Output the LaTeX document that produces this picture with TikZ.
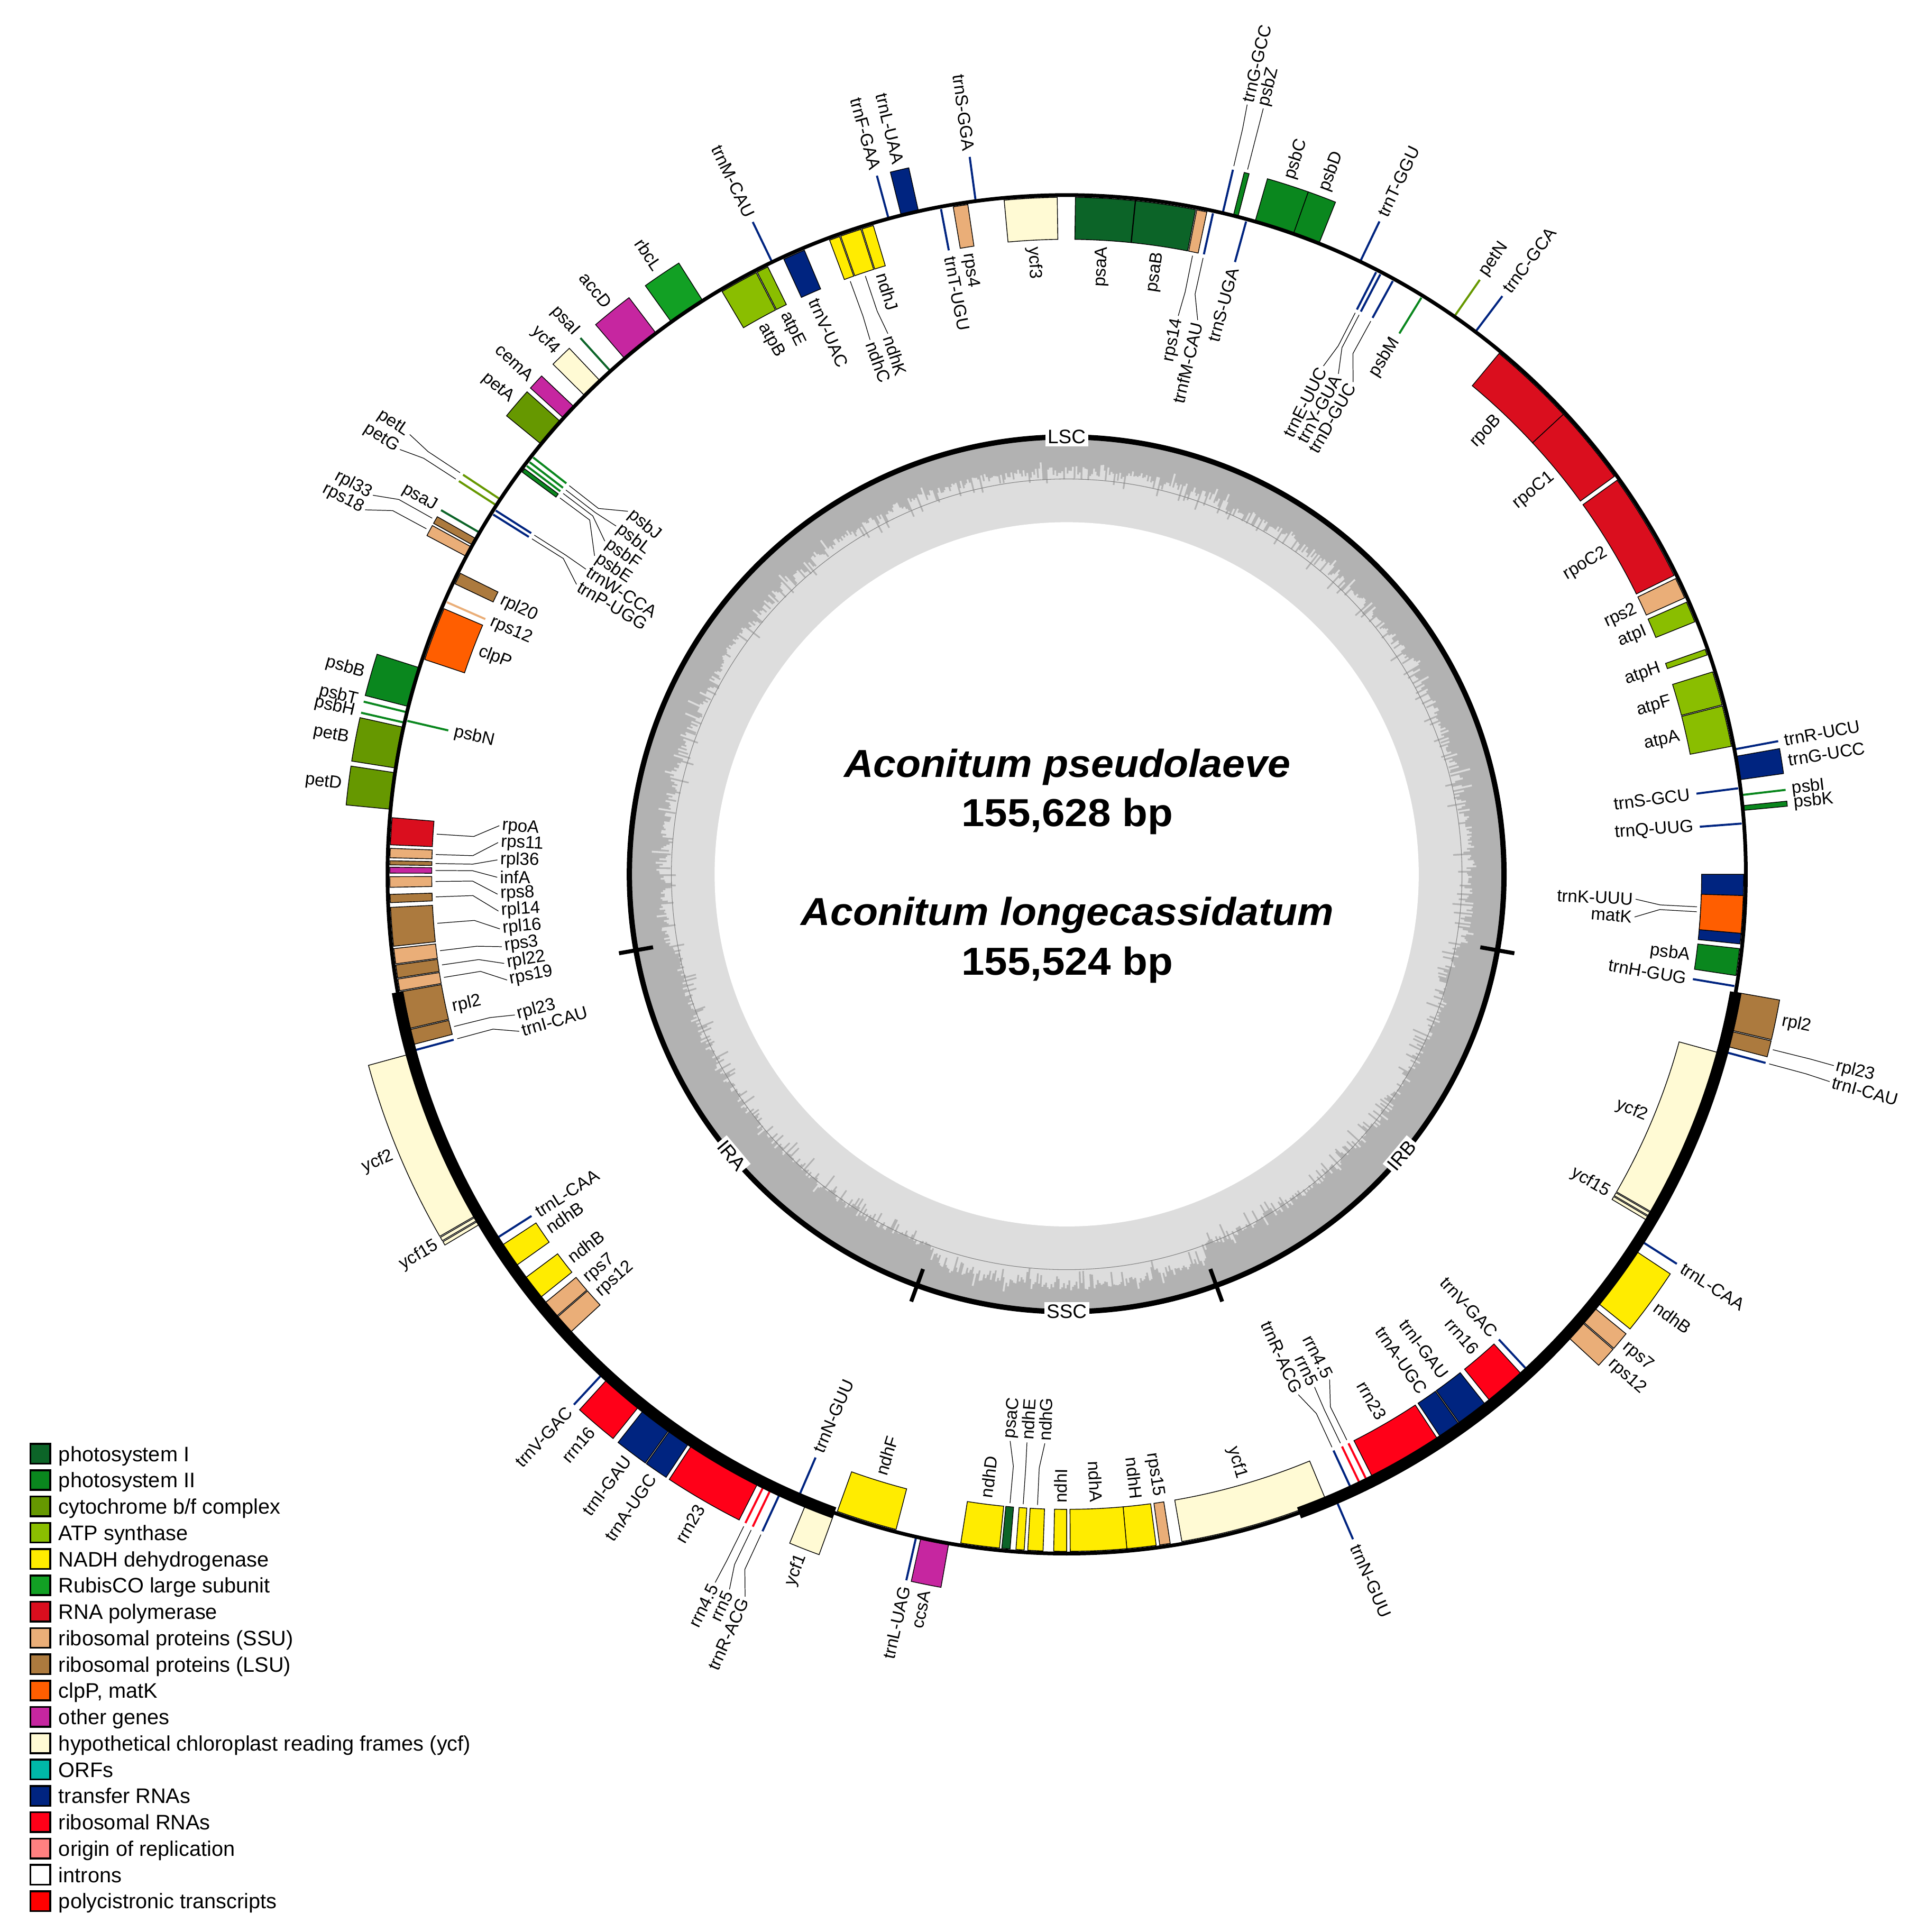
\documentclass[tikz,border=0pt]{standalone}
\usepackage{fontspec}
\setmainfont{Liberation Sans}
\definecolor{cPSI}{RGB}{12,100,40}
\definecolor{cPSII}{RGB}{10,135,30}
\definecolor{cCYT}{RGB}{102,152,0}
\definecolor{cATP}{RGB}{138,190,0}
\definecolor{cNDH}{RGB}{255,236,0}
\definecolor{cRBC}{RGB}{18,160,36}
\definecolor{cRPO}{RGB}{218,14,30}
\definecolor{cSSU}{RGB}{234,174,120}
\definecolor{cLSU}{RGB}{172,122,62}
\definecolor{cCLP}{RGB}{255,94,0}
\definecolor{cOTH}{RGB}{198,38,160}
\definecolor{cYCF}{RGB}{255,250,212}
\definecolor{cORF}{RGB}{0,184,168}
\definecolor{cTRN}{RGB}{0,36,128}
\definecolor{cRRN}{RGB}{255,0,24}
\definecolor{cORI}{RGB}{255,128,128}
\definecolor{cPOLY}{RGB}{255,0,0}
\definecolor{gcdark}{RGB}{178,178,178}
\definecolor{gclight}{RGB}{221,221,221}
\tikzset{
  genebox/.style={draw=black, line width=0.4pt},
  geneline/.style={line width=1.1pt},
  leader/.style={draw=black, line width=0.35pt},
  glabel/.style={font=\fontsize{9.4}{11}\selectfont, inner sep=0pt},
  ringlab/.style={font=\fontsize{10.5}{12}\selectfont, fill=white, inner sep=1.3pt},
  legbox/.style={draw=black, line width=1pt},
  legtext/.style={font=\fontsize{11.3}{13}\selectfont, inner sep=0pt, anchor=base west},
  titletext/.style={font=\fontsize{21}{25}\selectfont\bfseries\itshape, inner sep=0pt, anchor=base, xscale=1.045},
  numtext/.style={font=\fontsize{21}{25}\selectfont\bfseries, inner sep=0pt, anchor=base, xscale=1.06},
}
\newcounter{labc}
\newcommand\gbox[4]{%
  \ifx o#3\def\gra{551}\def\grb{586}\else\def\gra{514}\def\grb{548}\fi
  \filldraw[genebox, fill=#4] ({90-#1}:\gra) arc[start angle={90-#1}, end angle={90-#2}, radius=\gra]
    -- ({90-#2}:\grb) arc[start angle={90-#2}, end angle={90-#1}, radius=\grb] -- cycle;}
\newcommand\gline[3]{%
  \ifx o#2\def\gra{551}\def\grb{586}\else\def\gra{514}\def\grb{548}\fi
  \draw[geneline, #3] ({90-#1}:\gra) -- ({90-#1}:\grb);}
\newcommand\placelab[4]{%
  \pgfmathsetmacro\labpa{90-#1}%
  \pgfmathtruncatemacro\labrh{ifthenelse(mod(#1+720,360)<180,1,0)}%
  \ifnum\labrh=#3\relax\def\labanc{west}\else\def\labanc{east}\fi
  \ifnum\labrh=1\relax\pgfmathsetmacro\labrot{\labpa}\else\pgfmathsetmacro\labrot{\labpa+180}\fi
  \stepcounter{labc}%
  \node[glabel, anchor=\labanc, rotate=\labrot] (lab\arabic{labc}) at (\labpa:#2) {#4};}
\newcommand\glab[3]{\ifx o#2\placelab{#1}{591}{1}{#3}\else\placelab{#1}{509}{0}{#3}\fi}
\newcommand\glead[4]{%
  \ifx o#3%
    \draw[leader] ({90-#1}:589) -- ({90-#1}:620) -- ({90-#2}:640);%
    \placelab{#2}{642}{1}{#4}%
  \else
    \draw[leader] ({90-#1}:511) -- ({90-#1}:481) -- ({90-#2}:461);%
    \placelab{#2}{459}{0}{#4}%
  \fi}
\begin{document}
\begin{tikzpicture}[x=0.2336mm, y=0.2336mm]
\useasboundingbox (-863.5,-856.1) rectangle (696.4,707.7);
\fill[white] (-863.5,-856.1) rectangle (696.4,707.7);
% ---------------- GC content ring
\fill[gcdark] (0,0) circle[radius=355];
\pgfmathsetseed{11}
\fill[gclight] (90:327) \foreach \i in {1,...,1440}{
  \pgfextra{\pgfmathsetmacro\th{\i*0.25}%
    \pgfmathsetmacro\mr{ifthenelse(or(and(\th>100,\th<160),and(\th>200,\th<260)),322,ifthenelse(and(\th>159.9,\th<200.1),334,328))}%
    \pgfmathsetmacro\sp{rnd}%
    \pgfmathsetmacro\rr{\mr+3*rand-13*\sp*\sp*\sp+ifthenelse(rnd<0.08,9*rnd,0)}}
  -- ({90.25-\th}:\rr) -- ({90-\th}:\rr) } -- cycle;
\fill[white] (0,0) circle[radius=285];
\draw[gray, line width=0.3pt] (0,0) circle[radius=320];
\draw[black, line width=1.0mm] (0,0) circle[radius=354];
\foreach \t in {100,160,200,260} \draw[line width=0.75mm] ({90-\t}:340) -- ({90-\t}:368);
\node[ringlab] (lsc) at (90:354) {LSC};
\node[ringlab, rotate=50] (irb) at (-40:354) {IRB};
\node[ringlab] (ssc) at (-90:354) {SSC};
\node[ringlab, rotate=-50] (ira) at (-140:354) {IRA};
% ---------------- genes: LSC (right)
\gbox{0.74}{5.81}{i}{cPSI}
\gbox{5.85}{10.98}{i}{cPSI}
\gbox{11.08}{11.95}{i}{cSSU}
\gline{12.48}{i}{cTRN}
\gline{13.28}{o}{cTRN}
\gbox{14.2}{14.6}{o}{cPSII}
\gline{15.37}{i}{cTRN}
\gbox{16.1}{19.5}{o}{cPSII}
\gbox{19.5}{21.8}{o}{cPSII}
\gline{25.6}{o}{cTRN}
\gline{27.2}{i}{cTRN}
\gline{27.6}{i}{cTRN}
\gline{28.8}{i}{cTRN}
\gline{31.6}{i}{cPSII}
\gline{34.8}{o}{cCYT}
\gline{37.0}{o}{cTRN}
\gbox{39.7}{47.2}{i}{cRPO}
\gbox{47.2}{54.0}{i}{cRPO}
\gbox{54.4}{63.8}{i}{cRPO}
\gbox{64.1}{65.9}{i}{cSSU}
\gbox{66.3}{68.1}{i}{cATP}
\gbox{70.6}{71.1}{i}{cATP}
\gbox{72.6}{75.5}{i}{cATP}
\gbox{75.6}{79.1}{i}{cATP}
\gline{79.4}{o}{cTRN}
\gbox{80.0}{82.0}{o}{cTRN}
\gline{82.7}{i}{cTRN}
\gline{83.3}{o}{cPSII}
\gbox{84.2}{84.6}{o}{cPSII}
\gline{85.7}{i}{cTRN}
\gbox{90.0}{95.9}{i}{cTRN}
\gbox{91.8}{95.0}{i}{cCLP}
\gbox{96.3}{98.6}{i}{cPSII}
\gline{99.5}{i}{cTRN}
% IRB
\gbox{100.0}{103.2}{o}{cLSU}
\gbox{103.3}{104.6}{o}{cLSU}
\gline{105.1}{o}{cTRN}
\gbox{105.3}{120.0}{i}{cYCF}
\gbox{120.1}{120.4}{i}{cYCF}
\gbox{120.5}{120.8}{i}{cYCF}
\gline{122.55}{o}{cTRN}
\gbox{123.5}{128.9}{o}{cNDH}
\gbox{129.4}{130.9}{o}{cSSU}
\gbox{131.0}{132.7}{o}{cSSU}
\gline{137.1}{i}{cTRN}
\gbox{137.7}{141.2}{i}{cRRN}
\gbox{141.7}{144.4}{i}{cTRN}
\gbox{144.5}{146.4}{i}{cTRN}
\gbox{146.7}{153.1}{i}{cRRN}
\gline{153.65}{i}{cRRN}
\gline{154.3}{i}{cRRN}
\gline{155.15}{i}{cTRN}
\gline{156.7}{o}{cTRN}
\gbox{157.5}{170.2}{i}{cYCF}
% SSC
\gbox{171.2}{172.1}{i}{cSSU}
\gbox{172.4}{174.9}{i}{cNDH}
\gbox{174.9}{179.7}{i}{cNDH}
\gbox{180.0}{181.1}{i}{cNDH}
\gbox{182.0}{183.3}{i}{cNDH}
\gbox{183.6}{184.3}{i}{cNDH}
\gbox{184.8}{185.5}{i}{cPSI}
\gbox{185.7}{189.0}{i}{cNDH}
\gbox{190.0}{192.4}{o}{cOTH}
\gline{192.8}{o}{cTRN}
\gbox{194.6}{199.8}{i}{cNDH}
% IRA
\gbox{200.0}{202.5}{o}{cYCF}
\gline{203.3}{i}{cTRN}
\gline{204.85}{o}{cTRN}
\gline{205.7}{o}{cRRN}
\gline{206.35}{o}{cRRN}
\gbox{206.9}{213.3}{o}{cRRN}
\gbox{213.6}{215.5}{o}{cTRN}
\gbox{215.6}{218.3}{o}{cTRN}
\gbox{218.8}{222.3}{o}{cRRN}
\gline{222.9}{o}{cTRN}
\gbox{227.3}{229.0}{i}{cSSU}
\gbox{229.1}{230.6}{i}{cSSU}
\gbox{231.2}{233.3}{i}{cNDH}
\gbox{234.6}{236.7}{i}{cNDH}
\gline{237.45}{i}{cTRN}
\gbox{239.2}{239.5}{o}{cYCF}
\gbox{239.6}{239.9}{o}{cYCF}
\gbox{240.0}{254.7}{o}{cYCF}
\gline{254.9}{i}{cTRN}
\gbox{255.4}{256.7}{i}{cLSU}
\gbox{256.8}{260.0}{i}{cLSU}
% LSC (left)
\gbox{260.1}{261.1}{i}{cSSU}
\gbox{261.2}{262.3}{i}{cLSU}
\gbox{262.4}{263.7}{i}{cSSU}
\gbox{263.9}{267.2}{i}{cLSU}
\gbox{267.6}{268.3}{i}{cLSU}
\gbox{268.9}{269.8}{i}{cSSU}
\gbox{270.1}{270.6}{i}{cOTH}
\gbox{270.8}{271.15}{i}{cLSU}
\gbox{271.4}{272.2}{i}{cSSU}
\gbox{272.5}{274.8}{i}{cRPO}
\gbox{275.5}{278.6}{o}{cCYT}
\gbox{279.0}{282.5}{o}{cCYT}
\gline{282.9}{o}{cPSII}
\gline{283.1}{i}{cPSII}
\gline{283.8}{o}{cPSII}
\gbox{284.3}{287.7}{o}{cPSII}
\gbox{288.5}{293.1}{i}{cCLP}
\gline{293.7}{i}{cSSU}
\gbox{295.4}{296.4}{i}{cLSU}
\gbox{297.9}{298.8}{o}{cSSU}
\gbox{299.0}{299.6}{o}{cLSU}
\gline{300.2}{o}{cPSI}
\gline{302.1}{i}{cTRN}
\gline{302.5}{i}{cTRN}
\gline{302.9}{o}{cCYT}
\gline{303.5}{o}{cCYT}
\gbox{306.45}{306.8}{i}{cPSII}
\gline{307.1}{i}{cPSII}
\gline{307.5}{i}{cPSII}
\gline{308.0}{i}{cPSII}
\gbox{309.3}{311.8}{o}{cCYT}
\gbox{312.2}{313.5}{o}{cOTH}
\gbox{314.8}{316.6}{o}{cYCF}
\gline{317.8}{o}{cPSI}
\gbox{319.4}{322.8}{o}{cOTH}
\gbox{324.4}{327.6}{o}{cRBC}
\gbox{329.4}{332.7}{i}{cATP}
\gbox{332.8}{333.8}{i}{cATP}
\gline{334.3}{o}{cTRN}
\gbox{335.3}{337.2}{i}{cTRN}
\gbox{339.5}{340.4}{i}{cNDH}
\gbox{340.5}{342.3}{i}{cNDH}
\gbox{342.4}{343.4}{i}{cNDH}
\gline{344.8}{o}{cTRN}
\gbox{345.9}{347.4}{o}{cTRN}
\gline{349.3}{i}{cTRN}
\gbox{350.35}{351.6}{i}{cSSU}
\gline{352.3}{o}{cTRN}
\gbox{354.7}{359.2}{i}{cYCF}
% ---------------- genome circle and inverted repeats
\draw[line width=0.7mm] (0,0) circle[radius=549.8];
\draw[line width=2.2mm] (-10:550) arc[start angle=-10, end angle=-70, radius=550];
\draw[line width=2.2mm] (-110:550) arc[start angle=-110, end angle=-170, radius=550];
% ---------------- direct labels, outside
\glab{17.8}{o}{psbC}
\glab{20.65}{o}{psbD}
\glab{25.6}{o}{trnT-GGU}
\glab{34.8}{o}{petN}
\glab{37.0}{o}{trnC-GCA}
\glab{79.4}{o}{trnR-UCU}
\glab{81.0}{o}{trnG-UCC}
\glab{83.3}{o}{psbI}
\glab{84.4}{o}{psbK}
\glab{101.6}{o}{rpl2}
\glab{122.55}{o}{trnL-CAA}
\glab{126.2}{o}{ndhB}
\glab{130.15}{o}{rps7}
\glab{131.85}{o}{rps12}
\glab{156.7}{o}{trnN-GUU}
\glab{191.2}{o}{ccsA}
\glab{192.8}{o}{trnL-UAG}
\glab{201.25}{o}{ycf1}
\glab{210.1}{o}{rrn23}
\glab{214.55}{o}{trnA-UGC}
\glab{216.95}{o}{trnI-GAU}
\glab{220.55}{o}{rrn16}
\glab{222.9}{o}{trnV-GAC}
\glab{239.55}{o}{ycf15}
\glab{247.35}{o}{ycf2}
\glab{277.05}{o}{petD}
\glab{280.75}{o}{petB}
\glab{282.9}{o}{psbH}
\glab{283.8}{o}{psbT}
\glab{286.0}{o}{psbB}
\glab{300.2}{o}{psaJ}
\glab{310.55}{o}{petA}
\glab{312.85}{o}{cemA}
\glab{315.7}{o}{ycf4}
\glab{317.8}{o}{psaI}
\glab{321.1}{o}{accD}
\glab{326.0}{o}{rbcL}
\glab{334.3}{o}{trnM-CAU}
\glab{344.8}{o}{trnF-GAA}
\glab{346.65}{o}{trnL-UAA}
\glab{352.3}{o}{trnS-GGA}
% direct labels, inside
\glab{3.3}{i}{psaA}
\glab{8.4}{i}{psaB}
\glab{15.37}{i}{trnS-UGA}
\glab{31.6}{i}{psbM}
\glab{43.45}{i}{rpoB}
\glab{50.6}{i}{rpoC1}
\glab{59.1}{i}{rpoC2}
\glab{65.0}{i}{rps2}
\glab{67.2}{i}{atpI}
\glab{70.85}{i}{atpH}
\glab{74.05}{i}{atpF}
\glab{77.35}{i}{atpA}
\glab{82.7}{i}{trnS-GCU}
\glab{85.7}{i}{trnQ-UUG}
\glab{97.45}{i}{psbA}
\glab{99.5}{i}{trnH-GUG}
\glab{112.65}{i}{ycf2}
\glab{120.45}{i}{ycf15}
\glab{137.1}{i}{trnV-GAC}
\glab{139.45}{i}{rrn16}
\glab{143.05}{i}{trnI-GAU}
\glab{145.45}{i}{trnA-UGC}
\glab{149.9}{i}{rrn23}
\glab{163.85}{i}{ycf1}
\glab{171.65}{i}{rps15}
\glab{173.65}{i}{ndhH}
\glab{177.3}{i}{ndhA}
\glab{180.55}{i}{ndhI}
\glab{187.35}{i}{ndhD}
\glab{197.2}{i}{ndhF}
\glab{203.3}{i}{trnN-GUU}
\glab{228.15}{i}{rps12}
\glab{229.85}{i}{rps7}
\glab{232.25}{i}{ndhB}
\glab{235.65}{i}{ndhB}
\glab{237.45}{i}{trnL-CAA}
\glab{257.8}{i}{rpl2}
\glab{283.1}{i}{psbN}
\glab{290.8}{i}{clpP}
\glab{293.7}{i}{rps12}
\glab{295.9}{i}{rpl20}
\glab{331.05}{i}{atpB}
\glab{333.3}{i}{atpE}
\glab{336.25}{i}{trnV-UAC}
\glab{342.9}{i}{ndhJ}
\glab{349.3}{i}{trnT-UGU}
\glab{350.95}{i}{rps4}
\glab{356.95}{i}{ycf3}
% leader labels, outside
\glead{13.28}{13.2}{o}{trnG-GCC}
\glead{14.4}{14.4}{o}{psbZ}
\glead{103.95}{104.0}{o}{rpl23}
\glead{105.1}{105.2}{o}{trnI-CAU}
\glead{204.85}{204.0}{o}{trnR-ACG}
\glead{205.7}{205.25}{o}{rrn5}
\glead{206.35}{206.4}{o}{rrn4.5}
\glead{298.35}{297.45}{o}{rps18}
\glead{299.3}{298.65}{o}{rpl33}
\glead{302.9}{302.5}{o}{petG}
\glead{303.5}{303.8}{o}{petL}
% leader labels, inside
\glead{339.95}{339.8}{i}{ndhC}
\glead{341.4}{341.7}{i}{ndhK}
\glead{11.5}{11.3}{i}{rps14}
\glead{12.48}{13.3}{i}{trnfM-CAU}
\glead{27.2}{26.8}{i}{trnE-UUC}
\glead{27.6}{28.5}{i}{trnY-GUA}
\glead{28.8}{30.2}{i}{trnD-GUC}
\glead{92.95}{92.5}{i}{trnK-UUU}
\glead{93.4}{94.3}{i}{matK}
\glead{153.65}{152.5}{i}{rrn4.5}
\glead{154.3}{154.2}{i}{rrn5}
\glead{155.15}{156.0}{i}{trnR-ACG}
\glead{182.65}{182.2}{i}{ndhG}
\glead{183.95}{184.0}{i}{ndhE}
\glead{185.15}{185.7}{i}{psaC}
\glead{254.9}{254.0}{i}{trnI-CAU}
\glead{256.05}{255.7}{i}{rpl23}
\glead{260.6}{259.3}{i}{rps19}
\glead{261.75}{261.0}{i}{rpl22}
\glead{263.05}{262.7}{i}{rps3}
\glead{265.55}{264.5}{i}{rpl16}
\glead{267.95}{266.3}{i}{rpl14}
\glead{269.35}{268.0}{i}{rps8}
\glead{270.35}{269.7}{i}{infA}
\glead{270.98}{271.45}{i}{rpl36}
\glead{271.8}{273.2}{i}{rps11}
\glead{273.65}{274.9}{i}{rpoA}
\glead{302.1}{300.6}{i}{trnP-UGG}
\glead{302.5}{302.4}{i}{trnW-CCA}
\glead{306.6}{304.0}{i}{psbE}
\glead{307.1}{305.8}{i}{psbF}
\glead{307.5}{307.7}{i}{psbL}
\glead{308.0}{309.6}{i}{psbJ}
% ---------------- centre titles
\node[titletext] (sp1) at (0.5,78.7) {Aconitum pseudolaeve};
\node[numtext] (bp1) at (0.5,38.9) {155,628 bp};
\node[titletext] (sp2) at (0.5,-41.4) {Aconitum longecassidatum};
\node[numtext] (bp2) at (0.5,-81.3) {155,524 bp};
% ---------------- legend
\foreach \c/\t [count=\k from 0] in {cPSI/{photosystem I}, cPSII/{photosystem II}, cCYT/{cytochrome b/f complex}, cATP/{ATP synthase}, cNDH/{NADH dehydrogenase}, cRBC/{RubisCO large subunit}, cRPO/{RNA polymerase}, cSSU/{ribosomal proteins (SSU)}, cLSU/{ribosomal proteins (LSU)}, cCLP/{clpP, matK}, cOTH/{other genes}, cYCF/{hypothetical chloroplast reading frames (ycf)}, cORF/{ORFs}, cTRN/{transfer RNAs}, cRRN/{ribosomal RNAs}, cORI/{origin of replication}, white/{introns}, cPOLY/{polycistronic transcripts}}{
  \draw[legbox, fill=\c] (-838.8,{-477-21.3*\k}) rectangle (-822.8,{-461-21.3*\k});
  \node[legtext] (leg\k) at (-816.3,{-475.1-21.3*\k}) {\t};
}
\end{tikzpicture}
\end{document}
